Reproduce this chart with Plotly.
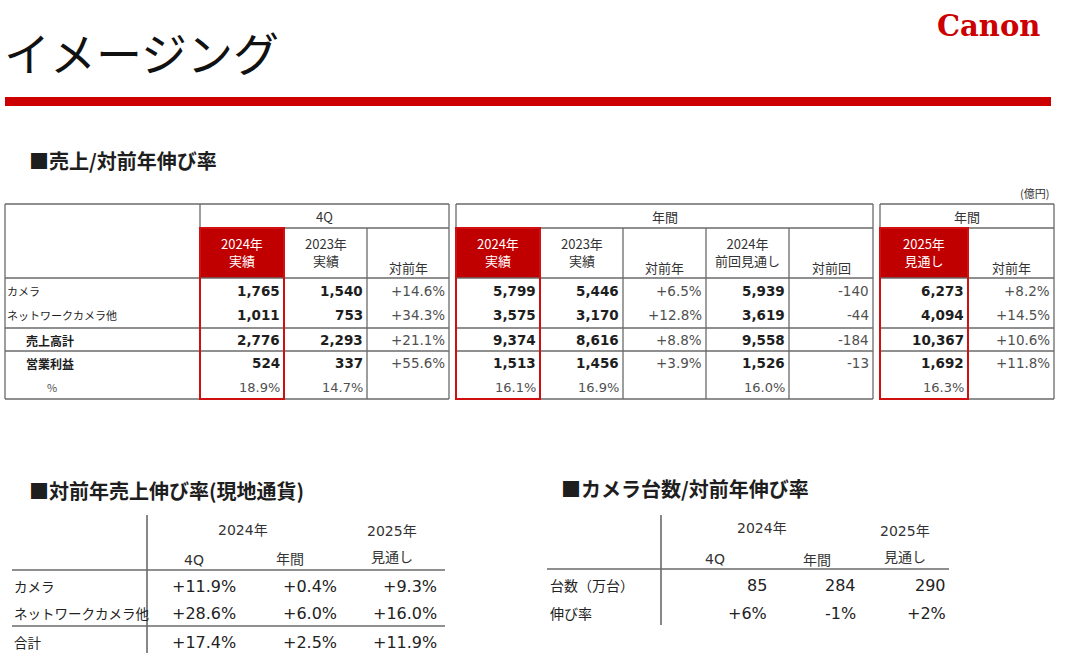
import plotly.graph_objects as go

W, H = 1080, 671

# ---------------- data ----------------
row_labels = ["カメラ", "ネットワークカメラ他", "売上高計", "営業利益", "%"]

q4_2024 = [1765, 1011, 2776, 524]
q4_2023 = [1540, 753, 2293, 337]
q4_yoy = [14.6, 34.3, 21.1, 55.6]
q4_2024_margin = 18.9
q4_2023_margin = 14.7

fy_2024 = [5799, 3575, 9374, 1513]
fy_2023 = [5446, 3170, 8616, 1456]
fy_yoy = [6.5, 12.8, 8.8, 3.9]
fy_prev_forecast = [5939, 3619, 9558, 1526]
fy_vs_prev = [-140, -44, -184, -13]
fy_2024_margin = 16.1
fy_2023_margin = 16.9
fy_prev_margin = 16.0

fc_2025 = [6273, 4094, 10367, 1692]
fc_2025_yoy = [8.2, 14.5, 10.6, 11.8]
fc_2025_margin = 16.3

local_labels = ["カメラ", "ネットワークカメラ他", "合計"]
local_q4 = [11.9, 28.6, 17.4]
local_fy = [0.4, 6.0, 2.5]
local_fc2025 = [9.3, 16.0, 11.9]

unit_labels = ["台数（万台）", "伸び率"]
camera_units = [85, 284, 290]
camera_units_growth = [6, -1, 2]

# ---------------- styles ----------------
RED = "#c00000"
DARK = "#1e1e1e"
GREY = "#505050"
LINE = "#6a6a6a"
JP = "Noto Sans CJK JP"
NUM = "DejaVu Sans, Noto Sans CJK JP"

fig = go.Figure()
fig.add_trace(go.Scatter(x=[0, W], y=[0, H], mode="markers",
                         marker=dict(opacity=0), hoverinfo="skip", showlegend=False))
fig.update_layout(
    width=W, height=H, margin=dict(l=0, r=0, t=0, b=0),
    paper_bgcolor="white", plot_bgcolor="white", showlegend=False,
    xaxis=dict(range=[0, W], visible=False, fixedrange=True),
    yaxis=dict(range=[H, 0], visible=False, fixedrange=True),
)


def text(x, y, s, size=13, color=DARK, bold=False, xanchor="center", family=JP, weight=None):
    fig.add_annotation(x=x, y=y, xref="x", yref="y", text=s, showarrow=False,
                       xanchor=xanchor, yanchor="middle", borderpad=0,
                       font=dict(size=size, color=color, family=family,
                                 weight=weight if weight else ("bold" if bold else "normal")))


def line(x0, y0, x1, y1, color=LINE, width=1.3):
    fig.add_shape(type="line", x0=x0, y0=y0, x1=x1, y1=y1, xref="x", yref="y",
                  line=dict(color=color, width=width))


def rect(x0, y0, x1, y1, fill=None, color=None, width=0):
    fig.add_shape(type="rect", x0=x0, y0=y0, x1=x1, y1=y1, xref="x", yref="y",
                  fillcolor=fill if fill else "rgba(0,0,0,0)",
                  line=dict(color=color if color else "rgba(0,0,0,0)", width=width))


def amt(v):
    return f"{v:,}"


def pct(v):
    return f"{v:+.1f}%"


def diff(v):
    return f"{v:+,}" if v > 0 else f"{v:,}"


# ---------------- header ----------------
text(3, 51, "イメージング", size=46, color="#111", xanchor="left")
text(1041, 26, "Canon", size=29, color="#cc0000", bold=True, xanchor="right",
     family="DejaVu Serif")
rect(5, 97, 1051, 106, fill="#cc0000")

# ---------------- main table ----------------
text(28, 160, "■売上/対前年伸び率", size=20, bold=True, xanchor="left")
text(1050, 193, "(億円)", size=11, color="#333", xanchor="right")

TOP, H1, H2, BOTTOM = 204, 228, 278, 399
row_y = [291, 315, 340, 363, 387]
row_lines = [328, 351]
label_left = 5

blocks = [
    dict(title="4Q", edges=[200, 284, 367, 449], cols=[
        dict(head="2024年<br>実績", vals=[amt(v) for v in q4_2024], kind="amt", red=True,
             margin=f"{q4_2024_margin:.1f}%"),
        dict(head="2023年<br>実績", vals=[amt(v) for v in q4_2023], kind="amt",
             margin=f"{q4_2023_margin:.1f}%"),
        dict(head="対前年", vals=[pct(v) for v in q4_yoy], kind="pct"),
    ]),
    dict(title="年間", edges=[456, 540, 623, 706, 789, 873], cols=[
        dict(head="2024年<br>実績", vals=[amt(v) for v in fy_2024], kind="amt", red=True,
             margin=f"{fy_2024_margin:.1f}%"),
        dict(head="2023年<br>実績", vals=[amt(v) for v in fy_2023], kind="amt",
             margin=f"{fy_2023_margin:.1f}%"),
        dict(head="対前年", vals=[pct(v) for v in fy_yoy], kind="pct"),
        dict(head="2024年<br>前回見通し", vals=[amt(v) for v in fy_prev_forecast], kind="amt",
             margin=f"{fy_prev_margin:.1f}%"),
        dict(head="対前回", vals=[diff(v) for v in fy_vs_prev], kind="pct"),
    ]),
    dict(title="年間", edges=[880, 968, 1054], cols=[
        dict(head="2025年<br>見通し", vals=[amt(v) for v in fc_2025], kind="amt", red=True,
             margin=f"{fc_2025_margin:.1f}%"),
        dict(head="対前年", vals=[pct(v) for v in fc_2025_yoy], kind="pct"),
    ]),
]

for bi, b in enumerate(blocks):
    e = b["edges"]
    left = label_left if bi == 0 else e[0]
    right = e[-1]
    for ci, c in enumerate(b["cols"]):
        if c.get("red"):
            rect(e[ci], H1, e[ci + 1], H2, fill=RED)
    line(left, TOP, right, TOP)
    line(e[0], H1, right, H1)
    line(left, H2, right, H2)
    for yl in row_lines:
        line(left, yl, right, yl)
    line(left, BOTTOM, right, BOTTOM)
    line(left, TOP, left, BOTTOM)
    line(right, TOP, right, BOTTOM)
    if bi == 0:
        line(e[0], TOP, e[0], BOTTOM)
    for xv in e[1:-1]:
        line(xv, H1, xv, BOTTOM)
    text((e[0] + right) / 2, (TOP + H1) / 2, b["title"], size=13, color="#333")
    for ci, c in enumerate(b["cols"]):
        x0, x1 = e[ci], e[ci + 1]
        xc = (x0 + x1) / 2
        if "<br>" in c["head"]:
            text(xc, 252, c["head"], size=13, color="white" if c.get("red") else "#333")
        else:
            text(xc, 267, c["head"], size=13, color="#333")
        for ri, v in enumerate(c["vals"]):
            if c["kind"] == "amt":
                text(x1 - 3, row_y[ri], v, size=13.5, bold=True, family=NUM, xanchor="right")
            else:
                text(x1 - 3, row_y[ri], v, size=13.5, color=GREY, family=NUM, xanchor="right")
        if c.get("margin"):
            text(x1 - 3, row_y[4], c["margin"], size=13, color=GREY, family=NUM, xanchor="right")
    for ci, c in enumerate(b["cols"]):
        if c.get("red"):
            rect(e[ci], H1, e[ci + 1], BOTTOM, color="#d01010", width=2)

label_x = [6, 6, 25, 25, 46]
for ri, lab in enumerate(row_labels):
    bold = ri in (2, 3)
    text(label_x[ri], row_y[ri], lab, size=11 if not bold else 12, bold=bold,
         color=DARK if ri < 4 else GREY, xanchor="left")

# ---------------- local-currency growth table ----------------
text(28, 490, "■対前年売上伸び率(現地通貨)", size=20, bold=True, xanchor="left")
line(147, 515, 147, 653, width=1.6)
line(12, 570, 445, 570, width=1.6)
line(12, 626, 445, 626, width=1.6)
text(243, 530, "2024年", size=14, color="#333", family=NUM)
text(392, 531, "2025年", size=14, color="#333", family=NUM)
text(392, 556, "見通し", size=14, color="#333")
text(194, 560, "4Q", size=14, color="#333", family=NUM)
text(290, 558, "年間", size=14, color="#333")
local_row_y = [586, 613, 642]
local_val_x = [237, 338, 438]
for ri, lab in enumerate(local_labels):
    text(13, local_row_y[ri], lab, size=13.5, color="#222", xanchor="left")
    for xi, series in enumerate([local_q4, local_fy, local_fc2025]):
        text(local_val_x[xi], local_row_y[ri], pct(series[ri]), size=16, color="#222",
             family=NUM, xanchor="right")

# ---------------- camera units table ----------------
text(560, 488, "■カメラ台数/対前年伸び率", size=20, bold=True, xanchor="left")
line(661, 515, 661, 625, width=1.6)
line(547, 569, 949, 569, width=1.6)
text(762, 528, "2024年", size=14, color="#333", family=NUM)
text(905, 531, "2025年", size=14, color="#333", family=NUM)
text(905, 556, "見通し", size=14, color="#333")
text(715, 559, "4Q", size=14, color="#333", family=NUM)
text(817, 559, "年間", size=14, color="#333")
unit_row_y = [585, 613]
unit_val_x = [768, 857, 947]
for ri, lab in enumerate(unit_labels):
    text(549, unit_row_y[ri], lab, size=14, color="#222", xanchor="left")
for xi in range(3):
    text(unit_val_x[xi], unit_row_y[0], f"{camera_units[xi]:,}", size=16, color="#222",
         family=NUM, xanchor="right")
    text(unit_val_x[xi], unit_row_y[1], f"{camera_units_growth[xi]:+d}%", size=16,
         color="#222", family=NUM, xanchor="right")

fig.write_html("out.html", config={"displayModeBar": False, "staticPlot": True},
               post_script="document.body.style.margin='0';document.body.style.overflow='hidden';")
